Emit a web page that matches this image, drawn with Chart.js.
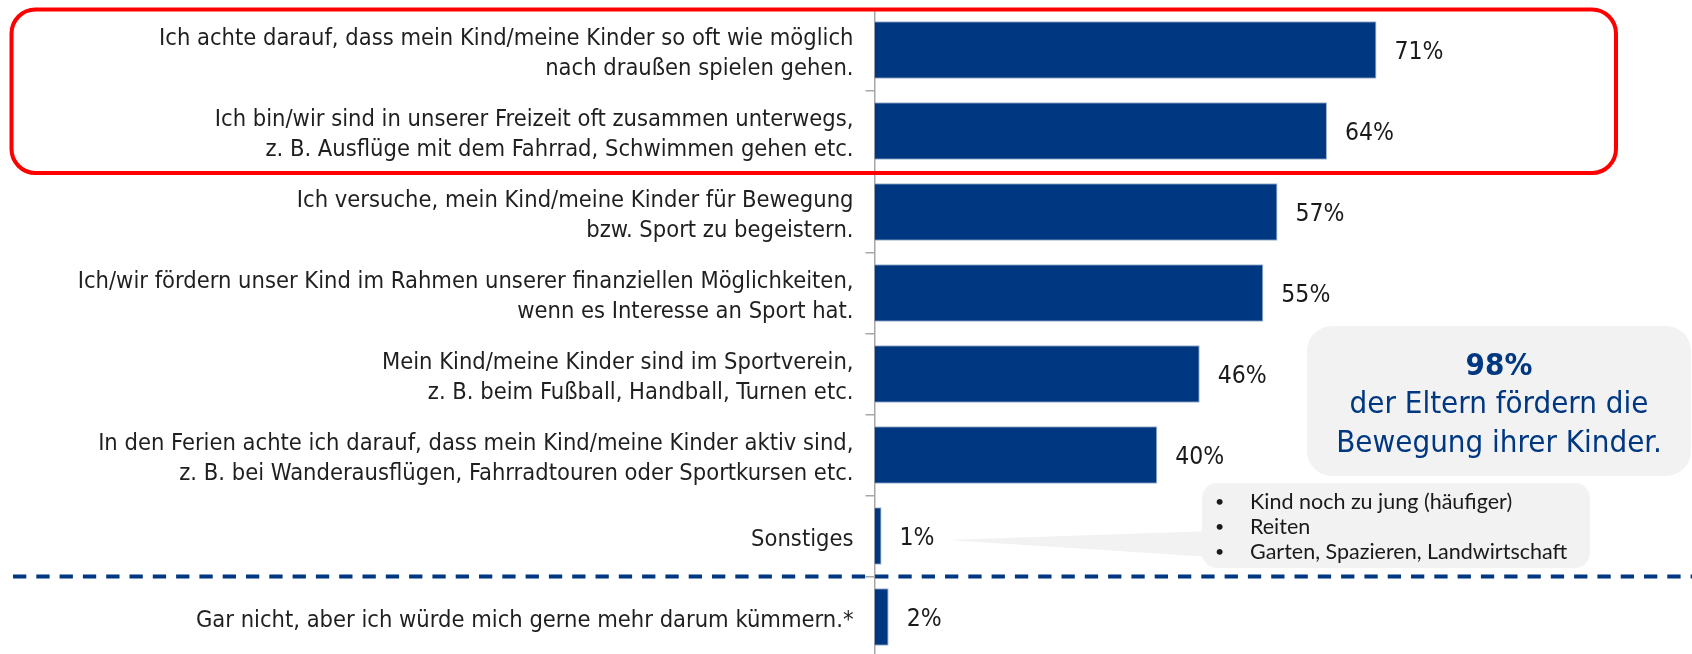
<!DOCTYPE html>
<html><head><meta charset="utf-8">
<script src="https://cdn.jsdelivr.net/npm/chart.js@4"></script>
<style>html,body{margin:0;padding:0;background:#fff;overflow:hidden}#wrap{width:1692px;height:660px;position:relative}</style>
</head><body><div id="wrap"><canvas id="c"></canvas></div>
<script>
// ---- data ----
const categories = [
  ["Ich achte darauf, dass mein Kind/meine Kinder so oft wie möglich", "nach draußen spielen gehen."],
  ["Ich bin/wir sind in unserer Freizeit oft zusammen unterwegs,", "z. B. Ausflüge mit dem Fahrrad, Schwimmen gehen etc."],
  ["Ich versuche, mein Kind/meine Kinder für Bewegung", "bzw. Sport zu begeistern."],
  ["Ich/wir fördern unser Kind im Rahmen unserer finanziellen Möglichkeiten,", "wenn es Interesse an Sport hat."],
  ["Mein Kind/meine Kinder sind im Sportverein,", "z. B. beim Fußball, Handball, Turnen etc."],
  ["In den Ferien achte ich darauf, dass mein Kind/meine Kinder aktiv sind,", "z. B. bei Wanderausflügen, Fahrradtouren oder Sportkursen etc."],
  "Sonstiges",
  "Gar nicht, aber ich würde mich gerne mehr darum kümmern.*"
];
const values = [71, 64, 57, 55, 46, 40, 1, 2];
const highlightText = ["98%", "der Eltern fördern die", "Bewegung ihrer Kinder."];
const otherItems = ["Kind noch zu jung (häufiger)", "Reiten", "Garten, Spazieren, Landwirtschaft"];

const FONT = '"DejaVu Sans Condensed", "DejaVu Sans", sans-serif';
const BLUE = '#003781';

function rr(ctx, x, y, w, h, r) {
  ctx.beginPath();
  ctx.moveTo(x + r, y);
  ctx.lineTo(x + w - r, y);
  ctx.arcTo(x + w, y, x + w, y + r, r);
  ctx.lineTo(x + w, y + h - r);
  ctx.arcTo(x + w, y + h, x + w - r, y + h, r);
  ctx.lineTo(x + r, y + h);
  ctx.arcTo(x, y + h, x, y + h - r, r);
  ctx.lineTo(x, y + r);
  ctx.arcTo(x, y, x + r, y, r);
  ctx.closePath();
}

const decorations = {
  id: 'decorations',
  afterDatasetsDraw(chart) {
    const ctx = chart.ctx;
    const meta = chart.getDatasetMeta(0);
    const ys = chart.scales.y;
    const step = ys.getPixelForValue(1) - ys.getPixelForValue(0);
    // value labels
    ctx.save();
    ctx.font = '24.5px ' + FONT;
    ctx.fillStyle = '#1a1a1a';
    ctx.textAlign = 'left';
    ctx.textBaseline = 'middle';
    const labelEnds = [];
    meta.data.forEach((bar, i) => {
      const t = values[i] + '%';
      ctx.fillText(t, bar.x + 18, bar.y + 2.5);
      labelEnds.push(bar.x + 18 + ctx.measureText(t).width);
    });
    ctx.restore();

    // red highlight frame around first two categories
    ctx.save();
    const top = ys.getPixelForValue(0) - step / 2;
    const bot = ys.getPixelForValue(1) + step / 2 + 1.5;
    ctx.strokeStyle = '#ff0000';
    ctx.lineWidth = 4;
    rr(ctx, 11.5, top, 1616 - 11.5, bot - top, 24);
    ctx.stroke();
    ctx.restore();

    // dashed separator before last category
    ctx.save();
    const sepY = (ys.getPixelForValue(6) + ys.getPixelForValue(7)) / 2;
    ctx.strokeStyle = BLUE;
    ctx.lineWidth = 4;
    ctx.setLineDash([13.3, 10]);
    ctx.beginPath();
    ctx.moveTo(13, sepY);
    ctx.lineTo(1692, sepY);
    ctx.stroke();
    ctx.restore();

    // highlight box
    ctx.save();
    ctx.fillStyle = '#f2f2f2';
    rr(ctx, 1307, 326, 384, 150, 25);
    ctx.fill();
    ctx.fillStyle = BLUE;
    ctx.textAlign = 'center';
    ctx.textBaseline = 'alphabetic';
    ctx.font = 'bold 31px ' + FONT;
    ctx.fillText(highlightText[0], 1499, 375);
    ctx.font = '31px ' + FONT;
    ctx.fillText(highlightText[1], 1499, 413);
    ctx.fillText(highlightText[2], 1499, 452);
    ctx.restore();

    // callout for "Sonstiges"
    ctx.save();
    ctx.fillStyle = '#f2f2f2';
    const b = meta.data[6];
    const tipX = labelEnds[6] + 12, tipY = b.y + 4;
    ctx.beginPath();
    ctx.moveTo(tipX, tipY);
    ctx.lineTo(1212, 531);
    ctx.lineTo(1212, 557);
    ctx.closePath();
    ctx.fill();
    rr(ctx, 1202, 483, 388, 85, 15);
    ctx.fill();
    ctx.fillStyle = '#1a1a1a';
    ctx.textBaseline = 'middle';
    ctx.textAlign = 'left';
    otherItems.forEach((t, i) => {
      const yy = 502 + i * 25;
      ctx.font = '16px Lato, sans-serif';
      ctx.fillText('•', 1215, yy);
      ctx.font = '21.5px Lato, sans-serif';
      ctx.fillText(t, 1250, yy);
    });
    ctx.restore();
  }
};

new Chart(document.getElementById('c'), {
  type: 'bar',
  data: {
    labels: categories,
    datasets: [{
      data: values,
      backgroundColor: BLUE,
      borderColor: '#a3b3cd',
      borderWidth: 1,
      barPercentage: 0.71,
      categoryPercentage: 1.0
    }]
  },
  options: {
    indexAxis: 'y',
    responsive: true,
    maintainAspectRatio: false,
    animation: false,
    layout: { padding: { top: 9.5, bottom: 2.5, left: 0, right: 110.5 } },
    plugins: { legend: { display: false }, tooltip: { enabled: false } },
    scales: {
      x: { display: false, min: 0, max: 100 },
      y: {
        afterFit(scale) { scale.width = 874.5; scale.paddingTop = 0; scale.paddingBottom = 0; },
        grid: { offset: true, drawOnChartArea: false, drawTicks: true, tickLength: 9, color: '#a6a6a6', lineWidth: 1.5 },
        border: { display: true, color: '#a6a6a6', width: 1.5 },
        ticks: {
          padding: 12,
          labelOffset: 4,
          color: '#1f1f1f',
          font: { family: FONT, size: 23.5, lineHeight: 1.277 },
          autoSkip: false
        }
      }
    }
  },
  plugins: [decorations]
});
</script></body></html>
